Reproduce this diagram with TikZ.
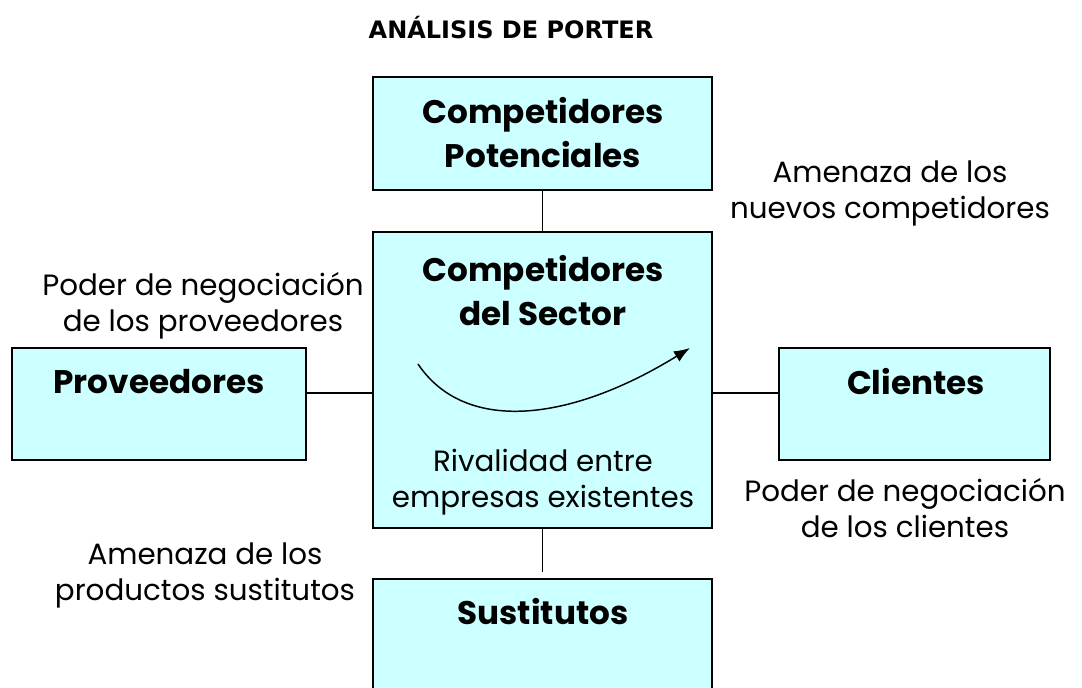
\documentclass[tikz,border=0pt]{standalone}
\usepackage{fontspec}
\setmainfont{Poppins}
\newfontfamily\titulo{DejaVu Sans}
\usetikzlibrary{arrows.meta}
\definecolor{celeste}{RGB}{204,255,255}
\tikzset{
  fuerza/.style={draw=black, line width=1.5pt, fill=celeste, rectangle, inner sep=0pt},
  nombre/.style={font=\fontsize{24.5}{33}\selectfont\bfseries, align=center},
  texto/.style={font=\fontsize{22}{27}\selectfont, align=center},
  enlace/.style={line width=1.1pt}
}
\begin{document}
\begin{tikzpicture}[x=0.75pt,y=-0.75pt]
        \useasboundingbox (0,0) rectangle (1082,687);
        \clip (0,0) rectangle (1082,687);
        \node[font=\titulo\fontsize{18}{20}\selectfont\bfseries] (titulo) at (511,28) {ANÁLISIS DE PORTER};
        \node[fuerza, minimum width=254.25pt, minimum height=84.75pt] (potenciales) at (542.5,133.5) {};
        \node[fuerza, minimum width=254.25pt, minimum height=222pt] (sector) at (542.5,380) {};
        \node[fuerza, minimum width=220.5pt, minimum height=84pt] (proveedores) at (159,404) {};
        \node[fuerza, minimum width=203.25pt, minimum height=84pt] (clientes) at (914.5,404) {};
        \node[fuerza, minimum width=254.25pt, minimum height=91.5pt] (sustitutos) at (542.5,640) {};
        \draw[enlace] (potenciales.south) -- (sector.north);
        \draw[enlace] (sector.south) -- ([yshift=4.5pt]sustitutos.north);
        \draw[enlace] ([yshift=8.25pt]proveedores.east) -- ([yshift=8.25pt]proveedores.east -| sector.west);
        \draw[enlace] ([yshift=8.25pt]clientes.west) -- ([yshift=8.25pt]clientes.west -| sector.east);
        \node[nombre] (tpotenciales) at (543,133) {Competidores\\Potenciales};
        \node[nombre] (tsector) at (543,291) {Competidores\\del Sector};
        \node[nombre] (tproveedores) at (159,382) {Proveedores};
        \node[nombre] (tclientes) at (916,382) {Clientes};
        \node[nombre] (tsustitutos) at (543,612) {Sustitutos};
        \node[texto] (rivalidad) at (543,482) {Rivalidad entre\\empresas existentes};
        \node[texto] (nuevos) at (890,193) {Amenaza de los\\nuevos competidores};
        \node[texto] (negprov) at (203,306) {Poder de negociación\\de los proveedores};
        \node[texto] (negcli) at (905,508) {Poder de negociación\\de los clientes};
        \node[texto] (prodsust) at (205,575) {Amenaza de los\\productos sustitutos};
        \coordinate (rinicio) at (418,364);
        \coordinate (rfin) at (690,348);
        \draw[line width=1.1pt, -{Latex[length=12pt,width=9pt]}] (rinicio) .. controls (465,434) and (570,422) .. (rfin);
  \end{tikzpicture}
\end{document}
